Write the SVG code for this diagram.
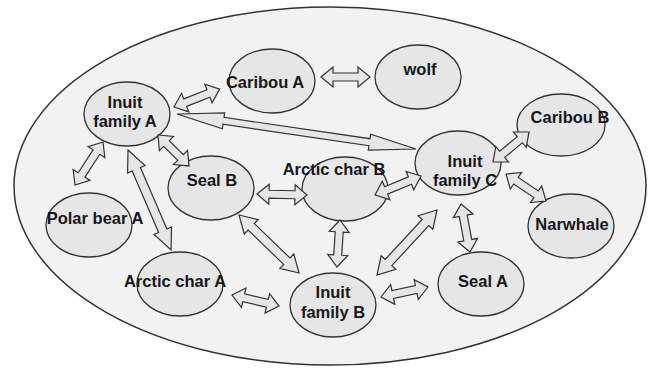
<svg xmlns="http://www.w3.org/2000/svg" width="656" height="370" viewBox="0 0 656 370">
  <style>
    .eco { fill: #f2f2f2; stroke: #333; stroke-width: 1.5; }
    .node ellipse { fill: #e6e6e6; stroke: #333; stroke-width: 1.3; }
    .node text { font-family: "Liberation Sans", Arial, sans-serif; font-size: 16.5px; font-weight: bold; fill: #161620; text-anchor: middle; }
    .link { fill: #e6e6e6; stroke: #333; stroke-width: 1.2; stroke-linejoin: miter; }
  </style>
  <rect width="656" height="370" fill="#ffffff"/>
  <!-- ecosystem boundary -->
  <ellipse class="eco" cx="330" cy="186" rx="316" ry="179"/>

  <g id="caribou-a" class="node">
    <ellipse cx="272" cy="81" rx="43" ry="32"/>
    <text x="265" y="88">Caribou A</text>
  </g>
  <g id="wolf" class="node">
    <ellipse cx="418" cy="77" rx="43" ry="32"/>
    <text x="420" y="75">wolf</text>
  </g>
  <g id="inuit-family-a" class="node">
    <ellipse cx="127" cy="114" rx="43" ry="32"/>
    <text x="125" y="108">Inuit</text>
    <text x="125" y="127">family A</text>
  </g>
  <g id="caribou-b" class="node">
    <ellipse cx="561" cy="125" rx="44" ry="31"/>
    <text x="570" y="123">Caribou B</text>
  </g>
  <g id="inuit-family-c" class="node">
    <ellipse cx="458" cy="163" rx="43" ry="32"/>
    <text x="465" y="167">Inuit</text>
    <text x="465" y="186">family C</text>
  </g>
  <g id="seal-b" class="node">
    <ellipse cx="211" cy="188" rx="43" ry="32"/>
    <text x="212" y="186">Seal B</text>
  </g>
  <g id="arctic-char-b" class="node">
    <ellipse cx="345" cy="189" rx="43" ry="32"/>
    <text x="334" y="175">Arctic char B</text>
  </g>
  <g id="polar-bear-a" class="node">
    <ellipse cx="89" cy="225" rx="43" ry="32"/>
    <text x="95" y="224">Polar bear A</text>
  </g>
  <g id="arctic-char-a" class="node">
    <ellipse cx="180" cy="284" rx="43" ry="32"/>
    <text x="175" y="287">Arctic char A</text>
  </g>
  <g id="inuit-family-b" class="node">
    <ellipse cx="333" cy="305" rx="43" ry="32"/>
    <text x="333" y="298">Inuit</text>
    <text x="333" y="318">family B</text>
  </g>
  <g id="seal-a" class="node">
    <ellipse cx="481" cy="284" rx="43" ry="32"/>
    <text x="483" y="287">Seal A</text>
  </g>
  <g id="narwhale" class="node">
    <ellipse cx="571" cy="226" rx="43" ry="32"/>
    <text x="572" y="230">Narwhale</text>
  </g>

  <!-- double-headed block arrows: drawn along x, then placed with translate/rotate -->
  <g id="connectors">
    <!-- Inuit A <-> Caribou A -->
    <polygon class="link" transform="translate(174,107) rotate(-21.4)" points="0,0 12,-10 12,-4 37,-4 37,-10 49,0 37,10 37,4 12,4 12,10"/>
    <!-- Caribou A <-> wolf -->
    <polygon class="link" transform="translate(321,77)" points="0,0 12,-10 12,-4 37,-4 37,-10 49,0 37,10 37,4 12,4 12,10"/>
    <!-- Inuit A <-> Inuit C -->
    <polygon class="link" transform="translate(177,114) rotate(8.33)" points="0,0 47,-8 47,-3.5 194.5,-3.5 194.5,-8 241.5,0 194.5,8 194.5,3.5 47,3.5 47,8"/>
    <!-- Inuit A <-> Seal B -->
    <polygon class="link" transform="translate(158,135) rotate(45)" points="0,0 12,-10 12,-4 31.8,-4 31.8,-10 43.8,0 31.8,10 31.8,4 12,4 12,10"/>
    <!-- Inuit A <-> Polar bear A -->
    <polygon class="link" transform="translate(103,142) rotate(123.1)" points="0,0 12,-10 12,-4 39.3,-4 39.3,-10 51.3,0 39.3,10 39.3,4 12,4 12,10"/>
    <!-- Inuit A <-> Arctic char A -->
    <polygon class="link" transform="translate(128,150) rotate(66.7)" points="0,0 21,-9.5 21,-4.5 87.9,-4.5 87.9,-9.5 108.9,0 87.9,9.5 87.9,4.5 21,4.5 21,9.5"/>
    <!-- Seal B <-> Arctic char B -->
    <polygon class="link" transform="translate(257,194) rotate(1.1)" points="0,0 12,-10 12,-4 38,-4 38,-10 50,0 38,10 38,4 12,4 12,10"/>
    <!-- Arctic char B <-> Inuit C -->
    <polygon class="link" transform="translate(375,195) rotate(-22.4)" points="0,0 12,-10 12,-4 37.8,-4 37.8,-10 49.8,0 37.8,10 37.8,4 12,4 12,10"/>
    <!-- Inuit C <-> Caribou B -->
    <polygon class="link" transform="translate(493,162) rotate(-39.8)" points="0,0 12,-10 12,-4 34.9,-4 34.9,-10 46.9,0 34.9,10 34.9,4 12,4 12,10"/>
    <!-- Inuit C <-> Narwhale -->
    <polygon class="link" transform="translate(506,174) rotate(34)" points="0,0 12,-10 12,-4 36.3,-4 36.3,-10 48.3,0 36.3,10 36.3,4 12,4 12,10"/>
    <!-- Inuit C <-> Seal A -->
    <polygon class="link" transform="translate(461,204) rotate(79.4)" points="0,0 12,-10 12,-4 36.8,-4 36.8,-10 48.8,0 36.8,10 36.8,4 12,4 12,10"/>
    <!-- Inuit C <-> Inuit B -->
    <polygon class="link" transform="translate(437,210) rotate(132.7)" points="0,0 17,-10 17,-4.5 71.5,-4.5 71.5,-10 88.5,0 71.5,10 71.5,4.5 17,4.5 17,10"/>
    <!-- Inuit B <-> Seal A -->
    <polygon class="link" transform="translate(381,297) rotate(-12)" points="0,0 12,-10 12,-4 36,-4 36,-10 48,0 36,10 36,4 12,4 12,10"/>
    <!-- Arctic char B <-> Inuit B -->
    <polygon class="link" transform="translate(340,220) rotate(93.7)" points="0,0 12,-10 12,-4 35.1,-4 35.1,-10 47.1,0 35.1,10 35.1,4 12,4 12,10"/>
    <!-- Seal B <-> Inuit B -->
    <polygon class="link" transform="translate(239,215) rotate(44)" points="0,0 17,-10 17,-4.5 66.5,-4.5 66.5,-10 83.5,0 66.5,10 66.5,4.5 17,4.5 17,10"/>
    <!-- Arctic char A <-> Inuit B -->
    <polygon class="link" transform="translate(232,295) rotate(13.2)" points="0,0 12,-10 12,-4 36.3,-4 36.3,-10 48.3,0 36.3,10 36.3,4 12,4 12,10"/>
  </g>
</svg>
